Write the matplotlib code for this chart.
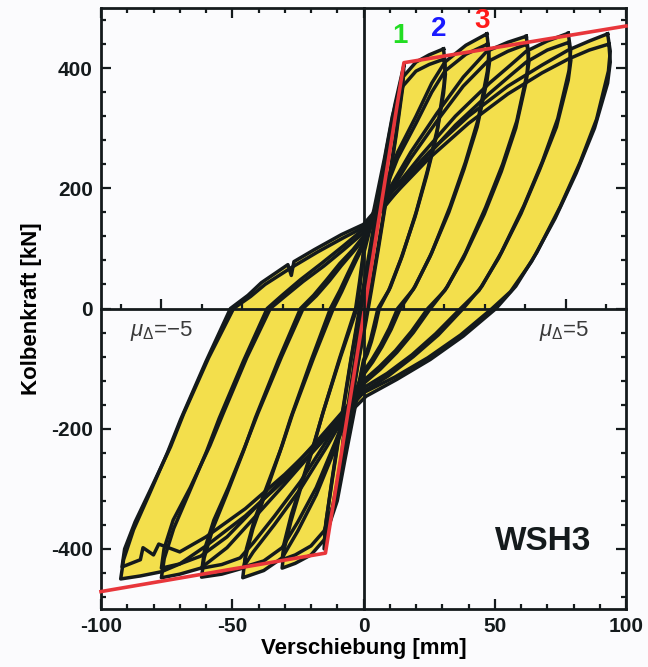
import numpy as np
import matplotlib
matplotlib.use("Agg")
import matplotlib.pyplot as plt
from matplotlib.ticker import MultipleLocator

# hysteresis cycles, displacement [mm] / force [kN]
# each cycle: unloading from + peak -> - peak -> back to + peak
el1_x = [4, 3, 1.5, 0, -1.5, -3, -4, -3, -1.5, 0, 1.5, 3, 4]
el1_y = [130, 95, 45, 0, -45, -95, -130, -100, -50, -5, 40, 90, 130]
el2_x = [8.5, 7.5, 5, 2.5, 0, -2.5, -5, -7.5, -8.5, -7.8, -5.5, -3, 0, 3, 5.5, 7.8, 8.5]
el2_y = [255, 215, 140, 65, -15, -90, -160, -225, -255, -220, -150, -75, 15, 95, 165, 230, 255]

mu1a_x = [15.4, 15, 12.5, 9, 5.5, 3, 1, -2, -5, -8.5, -12, -15, -14.6, -12, -8.5, -5, -2.5, -0.5, 2.5, 5.5, 9, 12, 15.4]
mu1a_y = [405, 370, 290, 190, 95, 30, -20, -90, -170, -260, -340, -400, -365, -285, -185, -90, -25, 25, 100, 180, 270, 340, 405]
mu1b_x = [15, 14.5, 12, 8.5, 5, 2.5, 0.5, -2.3, -5.3, -8.8, -12, -14.8, -14.3, -11.6, -8, -4.6, -2, 0, 3, 6, 9.4, 12.4, 15]
mu1b_y = [395, 360, 280, 180, 88, 25, -25, -95, -175, -262, -335, -390, -356, -276, -176, -82, -18, 30, 105, 185, 272, 338, 395]

mu2a_x = [30.5, 31.1, 30.7, 28.1, 24.4, 20.1, 14.8, 10.2, 6, 4.5, 3, 1.5, 0,
          -3, -7, -10, -15, -20, -26, -31,
          -30.3, -27.7, -24, -19.1, -15.7, -9.2, -3, -1.5, 0,
          4, 8, 11, 15, 20, 25, 30.5]
mu2a_y = [432, 405, 373, 298, 230, 161, 88, 35, 0, -30, -55, -75, -90,
          -160, -250, -320, -385, -410, -424, -432,
          -402, -355, -300, -230, -177, -84, 0, 45, 95,
          165, 250, 320, 385, 410, 422, 432]
mu2b_x = [30.7, 31.2, 30.5, 27.7, 24, 19.6, 14.2, 9.6, 5.5, 4, 2.7, 1.3, 0,
          -3, -7, -10, -15, -20, -26, -31,
          -30.2, -27.5, -23.6, -18.7, -15.2, -8.7, -2.5, -1.2, 0,
          4, 8, 11, 15, 20, 25, 30.7]
mu2b_y = [415, 390, 358, 285, 220, 152, 82, 30, 0, -28, -52, -71, -86,
          -152, -240, -308, -370, -395, -410, -418,
          -390, -343, -290, -222, -170, -80, 0, 42, 90,
          158, 240, 308, 370, 395, 406, 415]

mu3a_x = [47, 47.8, 47.2, 43.7, 38.8, 33, 26, 19.7, 14, 10.5, 7, 3.5, 0,
          -5, -11, -18, -25, -31, -38, -46,
          -45.1, -42.1, -37.6, -31.8, -27.8, -20, -12.6, -9, -6, -3, 0,
          6, 13, 20, 26, 31, 39, 47]
mu3a_y = [457, 428, 395, 315, 243, 170, 93, 37, 0, -35, -64, -89, -110,
          -165, -235, -310, -370, -415, -436, -448,
          -416, -366, -311, -238, -183, -87, 0, 30, 58, 85, 110,
          180, 260, 320, 375, 410, 438, 457]
mu3b_x = [47.3, 48, 47, 43.3, 38.3, 32.5, 25.3, 19, 13, 9.8, 6.5, 3.2, 0,
          -5, -11, -18, -25, -31, -38, -45.5,
          -44.6, -41.6, -37, -31, -27, -19, -11.5, -8.3, -5.5, -2.7, 0,
          6, 13, 20, 26, 31, 39, 47.3]
mu3b_y = [440, 410, 378, 302, 232, 160, 86, 32, 0, -33, -61, -85, -105,
          -158, -225, -298, -355, -398, -420, -430,
          -400, -352, -298, -228, -175, -82, 0, 28, 55, 81, 105,
          172, 250, 308, 360, 395, 423, 440]

mu4a_x = [62, 62.9, 62.3, 58.4, 53, 46.5, 38.8, 31.9, 25.5, 19, 12.7, 6.4, 0,
          -6, -14, -24, -34, -42, -46, -54, -61.7,
          -60.7, -57.3, -52.2, -45.7, -41.2, -32.4, -24, -19, -14, -9, -4, 0,
          8, 18, 28, 38, 47, 55, 62]
mu4a_y = [453, 424, 391, 312, 240, 168, 92, 36, 0, -40, -73, -101, -125,
          -170, -230, -300, -360, -405, -432, -442, -447,
          -415, -365, -310, -237, -182, -86, 0, 22, 48, 75, 98, 120,
          185, 260, 325, 385, 428, 443, 453]
mu4b_x = [62.3, 63, 62, 58, 52.5, 46, 38, 31, 24.5, 18.3, 12.2, 6, 0,
          -6, -14, -24, -34, -42, -47, -54, -61.5,
          -60.5, -57, -51.5, -45, -40.2, -31.2, -23, -18, -13, -8.5, -4, 0,
          8, 18, 28, 38, 47, 55, 62.3]
mu4b_y = [440, 410, 378, 300, 228, 157, 83, 30, 0, -38, -70, -97, -120,
          -162, -220, -288, -346, -390, -415, -426, -432,
          -400, -352, -298, -228, -174, -80, 0, 21, 46, 71, 94, 115,
          178, 250, 312, 370, 410, 428, 440]

mu5a_x = [78, 78.9, 78.3, 74, 68.1, 61.1, 52.6, 45.1, 38, 28.5, 19, 9.5, 0,
          -8, -18, -30, -42, -52, -62, -70, -77,
          -75.9, -72.3, -66.9, -59.8, -55, -45.7, -36.7, -31, -24, -16, -8, 0,
          10, 22, 35, 48, 56, 62, 70, 78]
mu5a_y = [458, 429, 396, 316, 244, 171, 94, 37, 0, -44, -80, -112, -138,
          -180, -232, -292, -350, -398, -432, -442, -448,
          -416, -366, -311, -238, -183, -87, 0, 22, 48, 75, 103, 132,
          190, 255, 320, 375, 405, 428, 445, 458]
mu5b_x = [78.3, 79, 78, 73.5, 67, 60, 51.5, 44, 37, 27.5, 18.5, 9, 0,
          -8, -18, -30, -42, -52, -62, -70, -77,
          -76, -72.5, -66, -58.5, -53.5, -44.5, -35.5, -30, -23, -15, -7.5, 0,
          10, 22, 35, 48, 56, 62, 70, 78.3]
mu5b_y = [443, 413, 380, 302, 230, 158, 84, 30, 0, -42, -77, -108, -132,
          -172, -222, -280, -335, -380, -412, -425, -432,
          -400, -352, -298, -228, -175, -82, 0, 20, 45, 71, 98, 126,
          180, 243, 305, 358, 388, 410, 430, 443]

mu6a_x = [93, 94, 93.3, 88.8, 82.5, 75, 66, 58, 50.5, 38, 25.4, 12.7, 1,
          -8, -18, -30, -45, -60, -70, -77, -85, -92.5,
          -91.4, -87.6, -82, -74.7, -69.7, -60, -50.7, -44, -38.9, -28.8, -27.5, -26.5, -18.7, -8.4, 0,
          10, 25, 40, 55, 68, 78, 86, 93]
mu6a_y = [457, 428, 395, 315, 243, 170, 93, 37, 0, -46, -85, -118, -146,
          -185, -232, -285, -345, -395, -425, -438, -445, -450,
          -418, -368, -313, -240, -185, -88, 0, 22, 43, 73, 55, 78, 98, 123, 140,
          190, 260, 320, 370, 405, 430, 445, 457]
mu6b_x = [93.5, 94, 93, 88, 81, 73, 64, 56, 49, 37, 24.5, 12, 0,
          -8, -18, -30, -45, -60, -70, -78, -80, -84, -85, -92,
          -91, -87, -81, -73.5, -68.5, -59, -49.5, -43, -37.5, -27.5, -17.5, -7.5, 0,
          10, 25, 40, 55, 68, 78, 86, 93.5]
mu6b_y = [440, 410, 375, 300, 225, 150, 78, 28, 0, -44, -82, -114, -140,
          -178, -225, -276, -333, -380, -405, -392, -410, -398, -418, -430,
          -400, -355, -300, -230, -175, -82, 0, 20, 40, 68, 94, 118, 135,
          182, 250, 308, 357, 392, 415, 430, 440]

# bilinear envelope (red)
env_x = [-100, -14.5, 15.4, 100]
env_y = [-471, -407, 409, 470]

cycles = [(el1_x, el1_y), (el2_x, el2_y),
          (mu1a_x, mu1a_y), (mu1b_x, mu1b_y), (mu2a_x, mu2a_y), (mu2b_x, mu2b_y),
          (mu3a_x, mu3a_y), (mu3b_x, mu3b_y), (mu4a_x, mu4a_y), (mu4b_x, mu4b_y),
          (mu5a_x, mu5a_y), (mu5b_x, mu5b_y), (mu6a_x, mu6a_y), (mu6b_x, mu6b_y)]

dy = 15.4  # yield displacement, ductility ticks on the zero line

bg = '#fbfbfd'
yellow = '#f3df4c'
dark = '#141a1c'
plt.rcParams['font.family'] = ['Liberation Sans', 'DejaVu Sans']
plt.rcParams['mathtext.fontset'] = 'custom'
plt.rcParams['mathtext.it'] = 'Liberation Sans:italic'
plt.rcParams['mathtext.rm'] = 'Liberation Sans'

fig = plt.figure(figsize=(6.48, 6.67), dpi=100, facecolor=bg)
pos = [101/648, 58/667, 525/648, 601/667]
ax = fig.add_axes(pos)
ax.set_facecolor(bg)

for cx, cy in cycles:
    ax.fill(cx, cy, color=yellow, lw=0, zorder=1)
for cx, cy in cycles:
    ax.plot(cx, cy, color=dark, lw=2.5, solid_joinstyle='round', zorder=2)

ax.plot(env_x, env_y, color='#e8363b', lw=2.6, zorder=4, clip_on=False)

ax.set_xlim(-100, 100)
ax.set_ylim(-500, 500)
ax.set_xticks([-100, -50, 0, 50, 100])
ax.set_yticks([-400, -200, 0, 200, 400])
ax.set_xticklabels(['-100', '-50', '0', '50', '100'])
ax.set_yticklabels(['-400', '-200', '0', '200', '400'])
ax.xaxis.set_minor_locator(MultipleLocator(10))
ax.yaxis.set_minor_locator(MultipleLocator(40))
ax.tick_params(which='both', direction='in', top=True, right=True, width=1.6, colors=dark)
ax.tick_params(which='major', length=7, labelsize=15, pad=6)
ax.tick_params(which='minor', length=3.5)
for lab in ax.get_xticklabels() + ax.get_yticklabels():
    lab.set_fontweight('bold')
for s in ax.spines.values():
    s.set_linewidth(2)
    s.set_color(dark)

ax.set_xlabel('Verschiebung [mm]', fontsize=16, fontweight='bold', labelpad=1)
ax.set_ylabel('Kolbenkraft [kN]', fontsize=16, fontweight='bold', labelpad=6)

ax.text(14, 453, '1', color='#22dd22', fontsize=20, fontweight='bold', ha='center', va='center')
ax.text(28.6, 465, '2', color='#1a1aff', fontsize=20, fontweight='bold', ha='center', va='center')
ax.text(45, 478, '3', color='#ff1a1a', fontsize=20, fontweight='bold', ha='center', va='center')
ax.text(-77, -38, r'$\mu_{\Delta}$=$-$5', fontsize=16, color='#3a3a3a', ha='center', va='center')
ax.text(76.5, -38, r'$\mu_{\Delta}$=5', fontsize=16, color='#3a3a3a', ha='center', va='center')
ax.text(68.5, -388, 'WSH3', fontsize=24, fontweight='bold', color=dark, ha='center', va='center')

# zero lines with ductility ticks
ax2 = fig.add_axes(pos)
ax2.patch.set_visible(False)
ax2.set_xlim(-100, 100)
ax2.set_ylim(-500, 500)
ax2.spines['top'].set_visible(False)
ax2.spines['right'].set_visible(False)
ax2.spines['bottom'].set_position(('data', 0))
ax2.spines['left'].set_position(('data', 0))
for s in ['bottom', 'left']:
    ax2.spines[s].set_linewidth(2)
    ax2.spines[s].set_color(dark)
ax2.set_yticks([])
ax2.set_xticks([-5*dy, 5*dy])
ax2.set_xticks([k*dy for k in [-6, -4, -3, -2, -1, 1, 2, 3, 4, 6]], minor=True)
ax2.tick_params(which='both', direction='in', labelbottom=False, width=1.6, colors=dark)
ax2.tick_params(which='major', length=7)
ax2.tick_params(which='minor', length=3.5)

fig.savefig('out.png', dpi=100, facecolor=bg)
